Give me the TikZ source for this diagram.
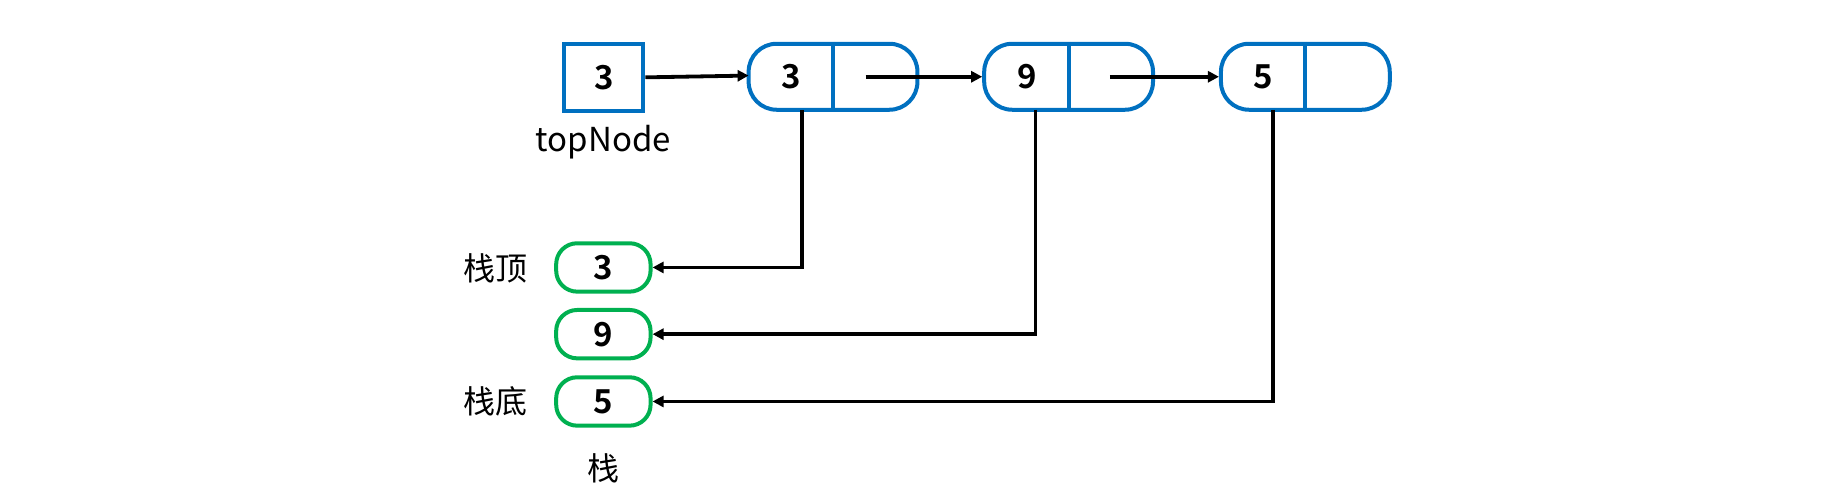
\documentclass[tikz,border=0pt]{standalone}
\usepackage{fontspec}
\setmainfont{Noto Sans CJK SC}[BoldFont={Noto Sans CJK SC Bold}]
\usetikzlibrary{arrows.meta}
\definecolor{nodeblue}{HTML}{0070C0}
\definecolor{stackgreen}{HTML}{00B050}
\begin{document}
\begin{tikzpicture}[x=0.5904pt,y=-0.5904pt,
 every node/.style={font=\fontsize{16}{19}\selectfont, inner sep=0pt},
 digit/.style={font=\fontsize{16.5}{19}\selectfont\bfseries},
 listnode/.style={draw=nodeblue, line width=2pt, rounded corners=14pt, minimum width=84.4pt, minimum height=33pt},
 ptrbox/.style={draw=nodeblue, line width=2pt, minimum width=39.5pt, minimum height=33.6pt, digit},
 stackbox/.style={draw=stackgreen, line width=2pt, rounded corners=10.5pt, minimum width=47.2pt, minimum height=24.2pt, digit},
 arr/.style={line width=1.9pt, -{Triangle[length=5.5pt,width=5.5pt]}},
 divider/.style={draw=nodeblue, line width=2pt}]
\useasboundingbox (0,0) rectangle (1560,426.8);

% top pointer
\node[ptrbox] (top) at (511.5,65.5) {3};
\node[font=\fontsize{16.5}{19}\selectfont] (toplbl) at (511,120) {topNode};

% linked list nodes
\node[listnode] (n1) at (705.5,65) {};
\node[listnode] (n2) at (905,65) {};
\node[listnode] (n3) at (1105.5,65) {};
\draw[divider] (n1.north) -- (n1.south);
\draw[divider] (n2.north) -- (n2.south);
\draw[divider] (n3.north) -- (n3.south);
\node[digit] (v1) at (670,65) {3};
\node[digit] (v2) at (870,65) {9};
\node[digit] (v3) at (1070,65) {5};

\coordinate (p1) at (733,65);
\coordinate (p2) at (940,65);
\coordinate (d1) at (679,93);
\coordinate (d2) at (877,93);
\coordinate (d3) at (1078,93);
\coordinate (t1) at (634,64);

% stack
\node[stackbox] (s1) at (511,226.5) {3};
\node[stackbox] (s2) at (511,283) {9};
\node[stackbox] (s3) at (511,340) {5};
\node (lt) at (420,227) {栈顶};
\node (lb) at (420,340) {栈底};
\node (ls) at (511,397) {栈};

% connectors
\draw[arr] (top.east) -- (t1);
\draw[arr] (p1) -- (n2.west);
\draw[arr] (p2) -- (n3.west);
\draw[arr] (d1) |- (s1.east);
\draw[arr] (d2) |- (s2.east);
\draw[arr] (d3) |- (s3.east);
\end{tikzpicture}
\end{document}
